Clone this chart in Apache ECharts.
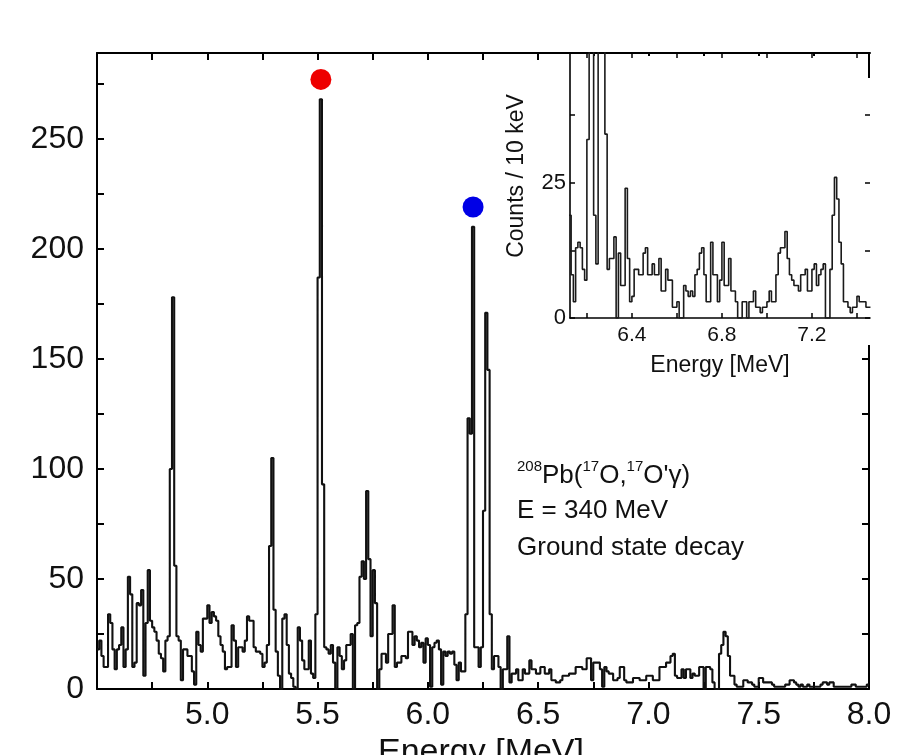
<!DOCTYPE html>
<html>
<head>
<meta charset="utf-8">
<script src="https://cdn.jsdelivr.net/npm/echarts@6/dist/echarts.min.js"></script>
<style>
  html, body { margin: 0; padding: 0; background: #ffffff; }
  #chart { width: 903px; height: 755px; }
</style>
</head>
<body>
<div id="chart"></div>
<script>
// Gamma spectrum, counts per 10 keV bin; first bin starts at 4.50 MeV
const binStart = 4.5;
const binWidth = 0.01;
const counts = [
  18, 22, 15, 10, 10, 34, 30, 18, 9, 18,
  20, 28, 10, 18, 51, 43, 10, 12, 39, 38,
  45, 6, 30, 54, 31, 28, 26, 22, 16, 14,
  8, 22, 24, 100, 178, 56, 24, 22, 4, 18,
  18, 15, 15, 8, 2, 26, 20, 17, 32, 32,
  38, 30, 35, 33, 31, 24, 20, 17, 9, 10,
  10, 29, 22, 10, 19, 19, 17, 22, 33, 31,
  31, 19, 17, 17, 16, 10, 12, 20, 65, 105,
  36, 17, 6, 0, 32, 34, 20, 7, 5, 1,
  0, 28, 22, 13, 9, 9, 22, 7, 5, 34,
  187, 268, 93, 19, 18, 16, 20, 12, 0, 19,
  15, 9, 13, 20, 20, 25, 0, 29, 30, 51,
  58, 50, 90, 59, 24, 54, 39, 0, 9, 16,
  16, 12, 25, 25, 38, 10, 12, 12, 15, 15,
  14, 26, 26, 20, 24, 22, 19, 21, 12, 23,
  20, 1, 19, 21, 22, 18, 2, 17, 15, 17,
  16, 17, 11, 4, 12, 8, 8, 34, 123, 116,
  210, 19, 19, 10, 19, 81, 171, 145, 34, 9,
  15, 15, 10, 0, 9, 9, 24, 3, 7, 7,
  9, 4, 4, 9, 7, 7, 13, 9, 9, 7,
  7, 10, 10, 7, 7, 9, 4, 4, 3, 3,
  4, 6, 6, 6, 7, 7, 7, 10, 10, 10,
  9, 9, 14, 14, 4, 12, 12, 12, 9, 1,
  10, 8, 7, 7, 4, 4, 5, 10, 10, 4,
  3, 3, 3, 5, 5, 5, 4, 4, 4, 6,
  6, 6, 4, 4, 4, 10, 10, 10, 12, 12,
  15, 16, 6, 5, 5, 9, 5, 9, 9, 5,
  7, 6, 6, 10, 10, 0, 10, 10, 9, 3,
  0, 0, 16, 20, 26, 24, 15, 6, 6, 2,
  1, 1, 1, 4, 4, 3, 3, 2, 1, 1,
  5, 5, 3, 3, 3, 3, 2, 1, 1, 1,
  1, 1, 2, 2, 4, 4, 3, 2, 1, 2,
  1, 1, 2, 1, 1, 1, 1, 1, 2, 3,
  3, 2, 3, 3, 1, 1, 1, 1, 1, 1,
  1, 1, 2, 2, 1, 1, 1, 1, 1, 2
];

// Expanded view of the high-energy part, counts per 10 keV from 6.12 MeV
const insetStart = 6.12;
const insetCounts = [
  19, 8, 3, 13, 14, 13, 9, 7, 33, 123,
  210, 19, 10, 145, 171, 120, 34, 9, 11, 11,
  15, 0, 12, 6, 6, 24, 11, 3, 4, 9,
  9, 8, 8, 12, 13, 8, 8, 10, 8, 8,
  11, 5, 5, 9, 7, 7, 2, 2, 3, 0,
  0, 6, 5, 4, 5, 4, 8, 9, 12, 13,
  8, 3, 3, 14, 8, 8, 3, 7, 14, 6,
  6, 11, 5, 5, 3, 0, 0, 3, 3, 0,
  3, 3, 5, 2, 2, 1, 2, 2, 3, 5,
  3, 3, 8, 12, 13, 13, 16, 11, 8, 7,
  6, 6, 5, 8, 8, 9, 5, 5, 9, 10,
  6, 8, 9, 10, 0, 0, 9, 19, 26, 22,
  14, 10, 3, 3, 2, 1, 2, 2, 4, 3,
  3, 3, 2, 2
];

// Peak markers: [energy MeV, counts]
const redMarker = [[5.515, 277]];
const blueMarker = [[6.205, 219]];

// Axis ranges and ticks
const mainX = { min: 4.5, max: 8.0, tick: 0.25 };
const mainY = { min: 0, max: 289, tick: 25 };
const insetX = { min: 6.125, max: 7.458 };
const insetXTicks = [6.2, 6.4, 6.6, 6.8, 7.0, 7.2, 7.4];
const insetXLabels = [6.4, 6.8, 7.2];
const insetY = { min: 0, max: 49, tick: 12.5 };

const FONT = '"Liberation Sans", Arial, Helvetica, sans-serif';
const INK = '#111';

// Bin values -> step outline points (left edge of every bin, plus closing edge)
function histogramPoints(start, width, vals) {
  const pts = vals.map((v, i) => [+(start + i * width).toFixed(4), v]);
  pts.push([+(start + vals.length * width).toFixed(4), vals[vals.length - 1]]);
  return pts;
}

function frameAxis(extra) {
  return Object.assign({
    type: 'value',
    axisLine: { show: true, onZero: false, lineStyle: { color: '#000', width: 2 } },
    axisTick: { show: true, inside: true, length: 7, lineStyle: { color: '#000', width: 2 } },
    splitLine: { show: false },
    axisLabel: { show: false }
  }, extra);
}

const chart = echarts.init(document.getElementById('chart'), null, { renderer: 'canvas' });

chart.setOption({
  backgroundColor: '#ffffff',
  animation: false,
  grid: [
    { left: 97, top: 53, width: 772, height: 636 },
    { left: 570, top: 53, width: 300, height: 265 }
  ],
  xAxis: [
    frameAxis({
      gridIndex: 0, position: 'bottom', min: mainX.min, max: mainX.max, interval: mainX.tick,
      axisLabel: {
        show: true, fontFamily: FONT, fontSize: 32, color: INK, margin: 10,
        formatter: v => { const h = Math.round(v * 100); return (h % 50 === 0 && h > 450) ? v.toFixed(1) : ''; }
      }
    }),
    frameAxis({ gridIndex: 0, position: 'top', min: mainX.min, max: mainX.max, interval: mainX.tick }),
    frameAxis({
      gridIndex: 1, position: 'bottom', min: insetX.min, max: insetX.max, z: 60,
      axisLine: { show: true, onZero: false, lineStyle: { color: '#000', width: 1.6 } },
      axisTick: { show: true, inside: true, length: 5, customValues: insetXTicks, lineStyle: { color: '#000', width: 1.5 } },
      axisLabel: { show: true, customValues: insetXLabels, fontFamily: FONT, fontSize: 21, color: INK, margin: 7, formatter: v => v.toFixed(1) }
    }),
    frameAxis({
      gridIndex: 1, position: 'top', min: insetX.min, max: insetX.max, z: 60,
      axisLine: { show: true, onZero: false, lineStyle: { color: '#000', width: 2 } },
      axisTick: { show: true, inside: true, length: 5, customValues: insetXTicks, lineStyle: { color: '#000', width: 1.5 } }
    })
  ],
  yAxis: [
    frameAxis({
      gridIndex: 0, position: 'left', min: mainY.min, max: mainY.max, interval: mainY.tick,
      axisLabel: {
        show: true, fontFamily: FONT, fontSize: 32, color: INK, margin: 13,
        formatter: v => (v % 50 === 0) ? String(v) : ''
      }
    }),
    frameAxis({ gridIndex: 0, position: 'right', min: mainY.min, max: mainY.max, interval: mainY.tick }),
    frameAxis({
      gridIndex: 1, position: 'left', min: insetY.min, max: insetY.max, interval: insetY.tick, z: 60,
      axisLine: { show: true, onZero: false, lineStyle: { color: '#000', width: 1.6 } },
      axisTick: { show: true, inside: true, length: 5, lineStyle: { color: '#000', width: 1.5 } },
      axisLabel: {
        show: true, fontFamily: FONT, fontSize: 22, color: INK, margin: 4,
        formatter: v => (v % 25 === 0) ? String(v) : ''
      }
    }),
    frameAxis({
      gridIndex: 1, position: 'right', min: insetY.min, max: insetY.max, interval: insetY.tick, z: 60,
      axisLine: { show: false },
      axisTick: { show: true, inside: true, length: 5, lineStyle: { color: '#000', width: 1.5 } }
    })
  ],
  series: [
    {
      name: 'spectrum', type: 'line', xAxisIndex: 0, yAxisIndex: 0, step: 'end',
      showSymbol: false, symbol: 'none', z: 2,
      lineStyle: { color: '#111111', width: 2.1 },
      data: histogramPoints(binStart, binWidth, counts)
    },
    {
      name: 'peakA', type: 'scatter', xAxisIndex: 0, yAxisIndex: 0, z: 10,
      symbolSize: 21, itemStyle: { color: '#ee0000', opacity: 1 }, data: redMarker
    },
    {
      name: 'peakB', type: 'scatter', xAxisIndex: 0, yAxisIndex: 0, z: 10,
      symbolSize: 21, itemStyle: { color: '#0000e6', opacity: 1 }, data: blueMarker
    },
    {
      name: 'zoom', type: 'line', xAxisIndex: 2, yAxisIndex: 2, step: 'end',
      showSymbol: false, symbol: 'none', z: 60, clip: true,
      lineStyle: { color: '#1a1a1a', width: 1.6 },
      data: histogramPoints(insetStart, binWidth, insetCounts)
    }
  ],
  graphic: [
    // white backing for the inset panel
    { type: 'rect', z: 50, silent: true, shape: { x: 566, y: 56, width: 296, height: 289 }, style: { fill: '#ffffff' } },
    { type: 'rect', z: 50, silent: true, shape: { x: 862, y: 78, width: 14, height: 267 }, style: { fill: '#ffffff' } },
    // reaction annotation
    {
      type: 'text', z: 100, silent: true,
      style: {
        x: 517, y: 474, verticalAlign: 'middle', align: 'left', fill: INK,
        text: '{s|208}{m|Pb(}{s|17}{m|O,}{s|17}{m|O\'\u03b3)}',
        rich: {
          m: { fontFamily: FONT, fontSize: 26, lineHeight: 30, fill: INK, verticalAlign: 'bottom' },
          s: { fontFamily: FONT, fontSize: 15, lineHeight: 15, fill: INK, verticalAlign: 'top' }
        }
      }
    },
    { type: 'text', z: 100, silent: true, style: { x: 517, y: 511, verticalAlign: 'middle', text: 'E = 340 MeV', font: '26px ' + FONT, fill: INK } },
    { type: 'text', z: 100, silent: true, style: { x: 517, y: 548, verticalAlign: 'middle', text: 'Ground state decay', font: '26px ' + FONT, fill: INK } },
    // axis titles
    { type: 'text', z: 100, silent: true, style: { x: 481, y: 753, align: 'center', verticalAlign: 'middle', text: 'Energy [MeV]', font: '34px ' + FONT, fill: INK } },
    { type: 'text', z: 100, silent: true, style: { x: 720, y: 366, align: 'center', verticalAlign: 'middle', text: 'Energy [MeV]', font: '23px ' + FONT, fill: INK } },
    { type: 'text', z: 100, silent: true, x: 517, y: 176, rotation: Math.PI / 2,
      style: { x: 0, y: 0, align: 'center', verticalAlign: 'middle', text: 'Counts / 10 keV', font: '23px ' + FONT, fill: INK } }
  ]
});
</script>
</body>
</html>
